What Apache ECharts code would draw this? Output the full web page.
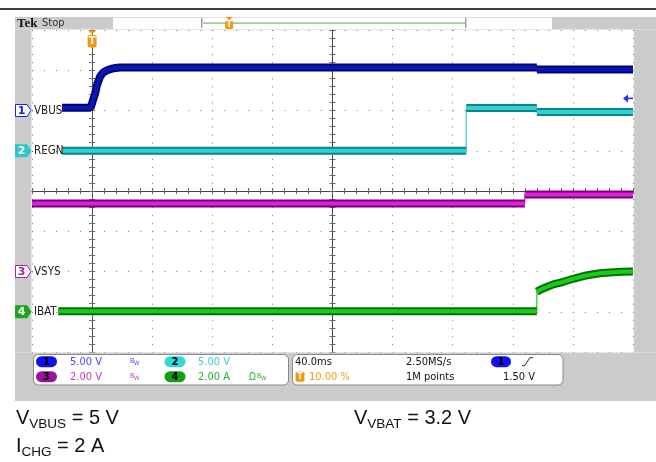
<!DOCTYPE html>
<html><head><meta charset="utf-8">
<script src="https://cdn.jsdelivr.net/npm/echarts@6/dist/echarts.min.js"></script>
<style>html,body{margin:0;padding:0;background:#fff}#c{width:656px;height:462px}</style>
</head><body><div id="c"></div>
<script>
// ---------- data ----------
// time in ms, trigger at t = 0 (10 % of record), 40 ms/div
const timeMin = -40, timeMax = 360, timeStep = 40;
const channelNames = ['VBUS', 'REGN', 'VSYS', 'IBAT'];
const channelScale = [5, 5, 2, 2];        // V/div or A/div
const channelGroundDiv = [2, 1, -2, -3];   // ground marker, divisions from screen centre
const channelReadout = ['5.00 V', '5.00 V', '2.00 V', '2.00 A'];

const vbusT = [-20, -1, 0, 2.0, 3.3, 5.3, 7.3, 10, 13.3, 15.5, 18.6, 296, 296, 360];
const vbusV = [0.35, 0.35, 0.5, 2.1, 3.2, 4.2, 4.7, 5.0, 5.2, 5.28, 5.35, 5.35, 5.1, 5.1];

const regnT = [-20, 249, 249, 296, 296, 360];
const regnV = [0, 0, 5.3, 5.3, 4.8, 4.8];

const vsysT = [-40, 288, 288, 360];
const vsysV = [3.38, 3.38, 3.83, 3.83];

const ibatT = [-22.5, 296, 296, 299, 302.6, 307, 313.7, 318, 322.6, 327, 331.5, 338, 346.8, 353, 360];
const ibatV = [0.02, 0.02, 1.0, 1.12, 1.23, 1.36, 1.49, 1.59, 1.68, 1.77, 1.84, 1.91, 1.96, 1.99, 2.0];

const triggerLevel = 1.5; // V on CH1
const timeDivText = '40.0ms', sampleText = '2.50MS/s', pointsText = '1M points', trigPosText = '10.00 %';

// ---------- styling ----------
const traces = [[vbusT, vbusV], [regnT, regnV], [vsysT, vsysV], [ibatT, ibatV]];
const edgeCol = ['#000672', '#0f8585', '#7a007a', '#0c6c0c'];
const coreCol = ['#0a16b8', '#2fd2d2', '#e01ee0', '#14d014'];
const markFill = ['#ffffff', '#2cc8c8', '#ffffff', '#1aa51a'];
const markStroke = ['#2020e0', '#2cc8c8', '#a020a0', '#1aa51a'];
const markText = ['#2020e0', '#ffffff', '#a020a0', '#ffffff'];
const pillCol = ['#1010f0', '#30d8d8', '#a010a0', '#10a010'];
const readCol = ['#4a4aff', '#38d0d0', '#c040c0', '#30b030'];
const orange = '#f39a12';
const cond = '"DejaVu Sans Condensed","DejaVu Sans",sans-serif';

const chart = echarts.init(document.getElementById('c'), null, {renderer: 'canvas'});
const G = {left: 32, top: 30, width: 601, height: 322};

function bandData(ts, vs) {
  const out = [];
  for (let i = 0; i < ts.length; i++) {
    if (i > 0 && ts[i] === ts[i - 1]) out.push(['-', '-']);
    out.push([ts[i], vs[i]]);
  }
  return out;
}
function fullData(ts, vs) { return ts.map((t, i) => [t, vs[i]]); }

const baseX = {type: 'value', min: timeMin, max: timeMax, interval: timeStep, gridIndex: 0,
  axisLabel: {show: false}, splitLine: {show: false}};
const baseY = {type: 'value', min: -4, max: 4, interval: 1, gridIndex: 0,
  axisLabel: {show: false}, splitLine: {show: false}};
const borderLine = {show: true, lineStyle: {color: '#555', width: 1}};
const tickStyle = {color: '#666', width: 1};
const dotCol = '#7a7a7a';

const xAxes = [
  Object.assign({}, baseX, {position: 'bottom', axisLine: borderLine,
    axisTick: {show: true, inside: true, length: 3, lineStyle: tickStyle},
    minorTick: {show: true, splitNumber: 5, length: 3, lineStyle: tickStyle},
    splitLine: {show: true, lineStyle: {color: dotCol, width: 1, type: [1, 7.05]}}}),
  Object.assign({}, baseX, {position: 'top', axisLine: borderLine,
    axisTick: {show: true, inside: true, length: 3, lineStyle: tickStyle},
    minorTick: {show: true, splitNumber: 5, length: 3, lineStyle: tickStyle}}),
  Object.assign({}, baseX, {position: 'bottom', offset: -G.height / 2, axisLine: {show: true, lineStyle: {color: '#444', width: 1}},
    axisTick: {show: true, inside: true, length: 3, lineStyle: tickStyle},
    minorTick: {show: true, splitNumber: 5, length: 3, lineStyle: tickStyle}}),
  Object.assign({}, baseX, {position: 'bottom', offset: -G.height / 2, axisLine: {show: false},
    axisTick: {show: true, inside: false, length: 3, lineStyle: tickStyle},
    minorTick: {show: true, splitNumber: 5, length: 3, lineStyle: tickStyle}})
];
const yAxes = [
  Object.assign({}, baseY, {position: 'left', axisLine: borderLine,
    axisTick: {show: true, inside: true, length: 3, lineStyle: tickStyle},
    minorTick: {show: true, splitNumber: 5, length: 3, lineStyle: tickStyle},
    splitLine: {show: true, lineStyle: {color: dotCol, width: 1, type: [1, 11.02]}}}),
  Object.assign({}, baseY, {position: 'right', axisLine: borderLine,
    axisTick: {show: true, inside: true, length: 3, lineStyle: tickStyle},
    minorTick: {show: true, splitNumber: 5, length: 3, lineStyle: tickStyle}}),
  Object.assign({}, baseY, {position: 'left', offset: -G.width / 2, axisLine: {show: true, lineStyle: {color: '#444', width: 1}},
    axisTick: {show: true, inside: true, length: 3, lineStyle: tickStyle},
    minorTick: {show: true, splitNumber: 5, length: 3, lineStyle: tickStyle}}),
  Object.assign({}, baseY, {position: 'left', offset: -G.width / 2, axisLine: {show: false},
    axisTick: {show: true, inside: false, length: 3, lineStyle: tickStyle},
    minorTick: {show: true, splitNumber: 5, length: 3, lineStyle: tickStyle}})
];
channelScale.forEach((s, k) => {
  yAxes.push({type: 'value', gridIndex: 0, show: false,
    min: (-4 - channelGroundDiv[k]) * s, max: (4 - channelGroundDiv[k]) * s});
});

const series = [];
traces.forEach(([ts, vs], k) => {
  const common = {type: 'line', xAxisIndex: 0, yAxisIndex: 4 + k, symbol: 'none', silent: true,
    animation: false, connectNulls: false, clip: true};
  series.push(Object.assign({}, common, {data: fullData(ts, vs), z: 3, lineStyle: {width: 1.2, color: coreCol[k]}}));
  series.push(Object.assign({}, common, {data: bandData(ts, vs), z: 4, lineStyle: {width: 8, color: edgeCol[k], cap: 'butt'}}));
  series.push(Object.assign({}, common, {data: bandData(ts, vs), z: 5, lineStyle: {width: 4, color: coreCol[k], cap: 'butt'}}));
});

chart.setOption({
  animation: false,
  backgroundColor: '#ffffff',
  grid: {left: G.left, top: G.top, width: G.width, height: G.height, show: true, backgroundColor: '#fff', borderWidth: 0},
  xAxis: xAxes, yAxis: yAxes, series: series
});

// ---------- decorations ----------
function txt(x, y, text, fill, font, align, valign, z) {
  return {type: 'text', z: z || 50, silent: true,
    style: {x: x, y: y, text: text, fill: fill, font: font,
      align: align || 'left', verticalAlign: valign || 'middle',
      textAlign: align || 'left', textVerticalAlign: valign || 'middle'}};
}
function rect(x, y, w, h, fill, opts) {
  return {type: 'rect', z: 40, silent: true, shape: {x: x, y: y, width: w, height: h, r: (opts && opts.r) || 0},
    style: {fill: fill, stroke: (opts && opts.stroke) || null, lineWidth: (opts && opts.lw) || 1}};
}
function poly(points, fill, stroke) {
  return {type: 'polygon', z: 45, silent: true, shape: {points: points}, style: {fill: fill, stroke: stroke || null, lineWidth: 1}};
}
const els = [];
const gray = '#cbcbcb';
// top rule
els.push(rect(0, 8.2, 656, 1.6, '#000'));
// bezel
els.push(rect(15, 17, 641, 12.5, gray));
els.push(rect(15, 29.5, 16.5, G.height + 1, gray));
els.push(rect(G.left + G.width + 1, 29.5, 656 - (G.left + G.width + 1), G.height + 1, gray));
els.push(rect(15, G.top + G.height + 0.5, 641, 401 - (G.top + G.height + 0.5), gray));
// top status bar
els.push(rect(113, 17.5, 439, 11.5, '#fff'));
els.push(rect(113, 17, 439, 0.8, '#dcdcdc'));
els.push(txt(17, 23.5, 'Tek', '#111', 'bold 13px "Liberation Serif",serif'));
els.push(txt(42, 23.5, 'Stop', '#333', '11px ' + cond));
const barL = 203, barR = 465;
els.push(rect(barL, 22.2, barR - barL, 1.8, '#8fd88f'));
els.push(rect(barL - 2, 18, 1.4, 10, '#9a9a9a'));
els.push(rect(barR, 18, 1.4, 10, '#9a9a9a'));
const trigFrac = (0 - timeMin) / (timeMax - timeMin);
const tbx = barL + trigFrac * (barR - barL);
els.push(poly([[tbx - 3.5, 17], [tbx + 3.5, 17], [tbx, 20.5]], orange));
els.push(rect(tbx - 4, 20.5, 8, 8.5, orange, {r: 1.5}));
els.push(txt(tbx, 25, 'T', '#fff', 'bold 8px "DejaVu Sans",sans-serif', 'center'));

// trigger marker in plot
const tx = chart.convertToPixel({xAxisIndex: 0}, 0);
els.push(poly([[tx - 4.5, 30.5], [tx + 4.5, 30.5], [tx, 34]], orange));
els.push(rect(tx - 4.5, 35, 9, 12.5, orange, {r: 2}));
els.push(txt(tx, 41.5, 'T', '#fff', 'bold 10px "DejaVu Sans",sans-serif', 'center'));

// channel ground markers and labels
channelNames.forEach((name, k) => {
  const gy = chart.convertToPixel({yAxisIndex: 4 + k}, 0);
  els.push(poly([[15.5, gy - 6], [27, gy - 6], [31, gy], [27, gy + 6], [15.5, gy + 6]], markFill[k], markStroke[k]));
  els.push(txt(21.5, gy + 0.5, String(k + 1), markText[k], 'bold 11px "DejaVu Sans",sans-serif', 'center'));
  els.push(txt(34, gy + 0.5, name, '#222', '11.5px ' + cond));
});
// trigger level arrow (CH1)
const ly = chart.convertToPixel({yAxisIndex: 4}, triggerLevel);
els.push(poly([[623, ly], [628, ly - 4], [628, ly + 4]], '#2030ff'));
els.push(rect(627, ly - 0.8, 6, 1.6, '#2030ff'));

// readout boxes
const rowA = 361.7, rowB = 376.7;
els.push(rect(33.5, 354.5, 255, 30.5, '#fff', {r: 5, stroke: '#8a8a8a'}));
els.push(rect(292.5, 354.5, 270.5, 30.5, '#fff', {r: 5, stroke: '#8a8a8a'}));
const pillX = [46.5, 175, 46.5, 175], pillY = [rowA, rowA, rowB, rowB];
const valX = [70, 198, 70, 198];
channelNames.forEach((n, k) => {
  els.push(rect(pillX[k] - 10.5, pillY[k] - 5.5, 21, 11, pillCol[k], {r: 5.5}));
  els.push(txt(pillX[k], pillY[k] + 0.5, String(k + 1), '#000', 'bold 10px "DejaVu Sans",sans-serif', 'center'));
  els.push(txt(valX[k], pillY[k] + 0.5, channelReadout[k], readCol[k], '11px ' + cond));
});
els.push(txt(130, rowA - 1, 'B', readCol[0], '7px ' + cond));
els.push(txt(134, rowA + 2, 'W', readCol[0], '6px ' + cond));
els.push(txt(130, rowB - 1, 'B', readCol[2], '7px ' + cond));
els.push(txt(134, rowB + 2, 'W', readCol[2], '6px ' + cond));
els.push(txt(249, rowB + 0.5, 'Ω', readCol[3], '10px ' + cond));
els.push(txt(257, rowB - 1, 'B', readCol[3], '7px ' + cond));
els.push(txt(261, rowB + 2, 'W', readCol[3], '6px ' + cond));

els.push(txt(295, rowA + 0.5, timeDivText, '#111', '11px ' + cond));
els.push(txt(406, rowA + 0.5, sampleText, '#111', '11px ' + cond));
els.push(rect(491, rowA - 5.5, 20, 11, '#1010f0', {r: 5.5}));
els.push(txt(501, rowA + 0.5, '1', '#000', 'bold 10px "DejaVu Sans",sans-serif', 'center'));
els.push({type: 'polyline', z: 50, silent: true, shape: {points: [[522, rowA + 4], [524.5, rowA + 4], [530, rowA - 4], [533, rowA - 4]]},
  style: {stroke: '#222', lineWidth: 1, fill: null}});
els.push(rect(295.5, rowB - 5, 9, 10, orange, {r: 1.5}));
els.push(txt(300, rowB + 0.5, 'T', '#fff', 'bold 8px "DejaVu Sans",sans-serif', 'center'));
els.push(txt(309, rowB + 0.5, trigPosText, orange, '11px ' + cond));
els.push(txt(406, rowB + 0.5, pointsText, '#111', '11px ' + cond));
els.push(txt(503, rowB + 0.5, triggerLevel.toFixed(2) + ' V', '#111', '11px ' + cond));

// caption
function cap(x, y, main, sub, rest) {
  return {type: 'text', z: 50, silent: true, style: {x: x, y: y, align: 'left', verticalAlign: 'middle',
    textAlign: 'left', textVerticalAlign: 'middle',
    text: '{a|' + main + '}{b|' + sub + '}{a|' + rest + '}',
    rich: {
      a: {fontSize: 20, fontFamily: '"Liberation Sans",Arial,sans-serif', fill: '#111', color: '#111', lineHeight: 26, verticalAlign: 'middle'},
      b: {fontSize: 13.5, fontFamily: '"Liberation Sans",Arial,sans-serif', fill: '#111', color: '#111', lineHeight: 14, verticalAlign: 'bottom'}
    }}};
}
els.push(cap(16, 418, 'V', 'VBUS', ' = 5 V'));
els.push(cap(354, 418, 'V', 'VBAT', ' = 3.2 V'));
els.push(cap(16, 446, 'I', 'CHG', ' = 2 A'));

chart.setOption({graphic: {elements: els}});
</script></body></html>
